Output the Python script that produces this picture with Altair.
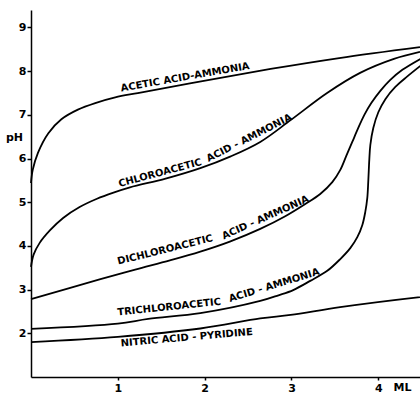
import altair as alt
import pandas as pd

# ---- titration curves (volume in ML vs pH) ----
acetic_ml = [0, 0.02, 0.08, 0.2, 0.35, 0.54, 0.74, 0.97, 1.23, 1.83, 2.76, 3.55, 4.48]
acetic_ph = [5.44, 5.74, 6.13, 6.58, 6.90, 7.12, 7.27, 7.40, 7.50, 7.72, 8.05, 8.30, 8.55]

chloro_ml = [0, 0.03, 0.10, 0.22, 0.37, 0.56, 0.76, 0.95, 1.14, 1.55, 1.95, 2.30, 2.64, 2.99, 3.41, 3.79, 4.18, 4.48]
chloro_ph = [3.52, 3.80, 4.07, 4.36, 4.64, 4.89, 5.08, 5.22, 5.34, 5.54, 5.78, 6.05, 6.38, 6.88, 7.50, 7.96, 8.28, 8.44]

dichloro_ml = [0, 0.8, 1.2, 1.6, 1.95, 2.29, 2.640, 2.928, 3.159, 3.331, 3.470, 3.562, 3.631,
               3.700, 3.769, 3.839, 3.919, 4.023, 4.138, 4.277, 4.484]
dichloro_ph = [2.78, 3.24, 3.46, 3.67, 3.87, 4.10, 4.39, 4.68, 4.96, 5.19, 5.46, 5.74, 6.06,
               6.38, 6.70, 7.00, 7.27, 7.55, 7.80, 8.03, 8.28]

trichloro_ml = [0, 1, 1.35, 1.95, 2.64, 2.85, 3.020, 3.216, 3.412, 3.562, 3.677, 3.758, 3.816, 3.850,
                3.873, 3.885, 3.896, 3.908, 3.942, 4.000, 4.081, 4.196, 4.334, 4.484]
trichloro_ph = [2.10, 2.22, 2.33, 2.46, 2.74, 2.87, 2.99, 3.20, 3.43, 3.70, 3.95, 4.20, 4.48, 4.78,
                5.10, 5.51, 5.97, 6.31, 6.70, 7.06, 7.36, 7.64, 7.88, 8.12]

nitric_ml = [0, 1, 1.95, 2.64, 2.99, 3.56, 4.48]
nitric_ph = [1.80, 1.92, 2.11, 2.34, 2.42, 2.60, 2.83]

series = [
    ("acetic", acetic_ml, acetic_ph),
    ("chloroacetic", chloro_ml, chloro_ph),
    ("dichloroacetic", dichloro_ml, dichloro_ph),
    ("trichloroacetic", trichloro_ml, trichloro_ph),
    ("nitric", nitric_ml, nitric_ph),
]

# ---- curve labels (text follows the curves) ----
label_text = ["ACETIC ACID-AMMONIA", "CHLOROACETIC", "ACID - AMMONIA",
              "DICHLOROACETIC", "ACID - AMMONIA", "TRICHLOROACETIC", "ACID - AMMONIA",
              "NITRIC  ACID - PYRIDINE"]
label_ml = [1.775, 1.487, 2.513, 1.545, 2.70, 1.591, 2.80, 1.793]
label_ph = [7.86, 5.67, 6.47, 3.91, 4.65, 2.60, 3.10, 1.90]
label_angle = [350, 345, 333, 346, 336, 354, 343, 355]

x_ticks = [1, 2, 3, 4]
y_ticks = [2, 3, 4, 5, 6, 7, 8, 9]

rows = []
for name, xs, ys in series:
    for x, y in zip(xs, ys):
        rows.append({"series": name, "ml": x, "ph": y})
df = pd.DataFrame(rows)

labels = pd.DataFrame({"text": label_text, "ml": label_ml, "ph": label_ph, "angle": label_angle})

x_scale = alt.Scale(domain=[0, 4.48], nice=False, zero=False)
y_scale = alt.Scale(domain=[1, 9.4], nice=False, zero=False)

FONT = "DejaVu Sans"

lines = alt.Chart(df).mark_line(
    color="black", strokeWidth=1.8, interpolate="catmull-rom"
).encode(
    x=alt.X("ml:Q", scale=x_scale, axis=alt.Axis(
        values=x_ticks, format="d", title="ML", titleX=371, titleY=10, titleAlign="center",
        titleBaseline="middle", labelPadding=2, tickSize=3)),
    y=alt.Y("ph:Q", scale=y_scale, axis=alt.Axis(
        values=y_ticks, format="d", title="pH", titleAngle=0, titleX=-17, titleY=127,
        titleAlign="center", titleBaseline="middle", labelPadding=1, tickSize=4)),
    detail="series:N",
)

texts = alt.Chart(labels).mark_text(
    font=FONT, fontWeight="bold", fontSize=10, align="center", baseline="middle", color="black"
).encode(
    x=alt.X("ml:Q", scale=x_scale),
    y=alt.Y("ph:Q", scale=y_scale),
    text="text:N",
    angle=alt.Angle("angle:Q", scale=None),
)

chart = alt.layer(lines, texts).properties(
    width=389, height=367,
    padding={"left": 31, "top": 10, "right": 0, "bottom": 18},
    autosize=alt.AutoSizeParams(type="none"),
    background="white",
).configure_view(stroke=None).configure_axis(
    grid=False, domainColor="black", domainWidth=1.5, tickColor="black", tickWidth=1.5,
    labelFont=FONT, labelFontWeight="bold", labelFontSize=11, labelColor="black",
    titleFont=FONT, titleFontWeight="bold", titleFontSize=11, titleColor="black",
)

chart.save("out.html", embed_options={"renderer": "svg", "actions": False})
